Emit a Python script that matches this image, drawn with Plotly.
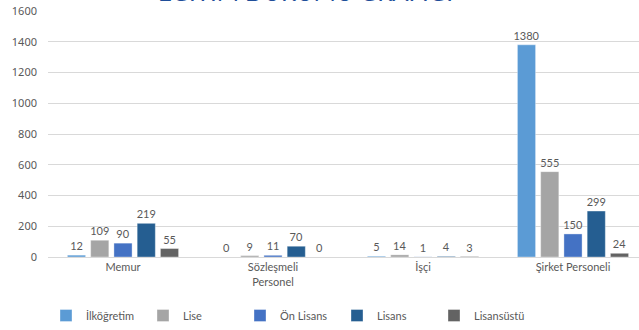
import plotly.graph_objects as go

categories = ["Memur", "Sözleşmeli<br>Personel", "İşçi", "Şirket Personeli"]
series_names = ["İlköğretim", "Lise", "Ön Lisans", "Lisans", "Lisansüstü"]
ilkogretim = [12, 0, 5, 1380]
lise = [109, 9, 14, 555]
on_lisans = [90, 11, 1, 150]
lisans = [219, 70, 4, 299]
lisansustu = [55, 0, 3, 24]
colors = ["#5B9BD5", "#A5A5A5", "#4472C4", "#255E91", "#636363"]
y_ticks = [0, 200, 400, 600, 800, 1000, 1200, 1400, 1600]
title_text = "EĞİTİM DURUMU GRAFİĞİ"

W, H = 639, 330
L, T, B = 48, 11, 73
PW = W - L
PH = H - T - B

series_values = [ilkogretim, lise, on_lisans, lisans, lisansustu]
label_font = dict(family="Lato, Open Sans, sans-serif", size=11, color="#595959")

fig = go.Figure()
for name, vals, col in zip(series_names, series_values, colors):
    fig.add_trace(go.Bar(
        name=name, x=list(range(len(categories))), y=vals,
        marker=dict(color=col, line=dict(color="rgba(255,255,255,0.35)", width=1)),
        text=[str(v) for v in vals], textposition="outside",
        textfont=label_font, cliponaxis=False, texttemplate="%{text}",
        constraintext="none",
    ))

# category width 150 px, plot extends beyond right edge
cat_w = 150.0
x_max = -0.5 + PW / cat_w

fig.update_layout(
    width=W, height=H,
    margin=dict(l=L, r=0, t=T, b=B, pad=0),
    paper_bgcolor="white", plot_bgcolor="white",
    barmode="group", bargap=0.225, bargroupgap=0.22,
    showlegend=True,
    legend=dict(orientation="h", x=(46 - L) / PW, xanchor="left",
                y=-(316 - (H - B)) / PH, yanchor="middle",
                entrywidth=52, entrywidthmode="pixels",
                font=dict(family="Lato, Open Sans, sans-serif", size=11, color="#595959"),
                itemclick=False, tracegroupgap=0),
    xaxis=dict(range=[-0.5, x_max], tickvals=list(range(len(categories))),
               ticktext=categories, showgrid=False, zeroline=False,
               showline=True, linecolor="#D9D9D9", linewidth=1, ticks="",
               tickfont=dict(family="Lato, Open Sans, sans-serif", size=11, color="#595959")),
    yaxis=dict(range=[0, 1600], tickvals=y_ticks, showgrid=True,
               gridcolor="#D9D9D9", gridwidth=1, zeroline=False, ticks="",
               ticklabelstandoff=10,
               tickfont=dict(family="Noto Sans, sans-serif", size=11, color="#595959")),
    font=dict(family="Lato, Open Sans, sans-serif", color="#595959"),
)

fig.add_annotation(
    text=title_text, xref="paper", yref="paper",
    x=(305 - L) / PW, y=1.0, yshift=3, xanchor="center", yanchor="bottom",
    showarrow=False, font=dict(family="Lato, Open Sans, sans-serif", size=24, color="#1F4E99"),
)

fig.write_html("out.html")
